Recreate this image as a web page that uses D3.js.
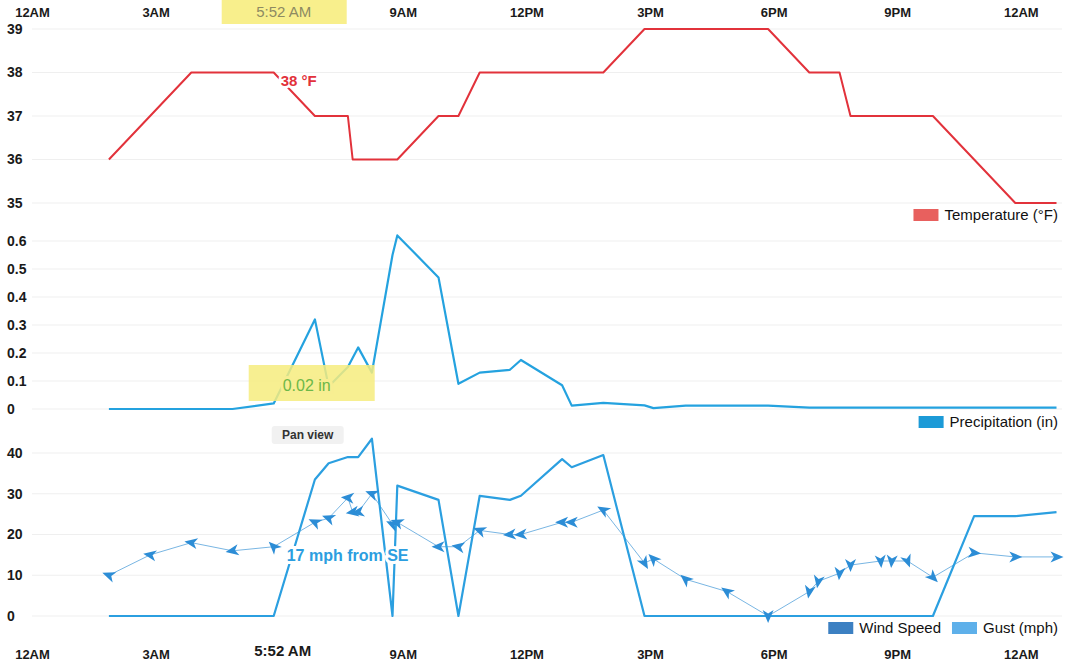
<!DOCTYPE html>
<html><head><meta charset="utf-8">
<script src="https://cdn.jsdelivr.net/npm/d3@7/dist/d3.min.js"></script>
<style>
body{margin:0;background:#fff;}
svg text{font-family:"Liberation Sans",Arial,Helvetica,sans-serif;}
</style></head><body>
<svg id="chart" width="1066" height="670"></svg>
<script>
// ---------- data ----------
const axisHours  = [0, 3, 9, 12, 15, 18, 21, 24];
const axisLabels = ["12AM", "3AM", "9AM", "12PM", "3PM", "6PM", "9PM", "12AM"];
const cursorTime  = "05:52";
const cursorLabel = "5:52 AM";

const tempTicks = [35, 36, 37, 38, 39];
const precipTicks = [0, 0.1, 0.2, 0.3, 0.4, 0.5, 0.6];
const windTicks = [0, 10, 20, 30, 40];

const tempTimes  = ["01:52","02:52","03:52","04:52","05:52","06:52","07:40","07:47","08:52","09:52","10:21","10:52","11:52","12:52","13:52","14:52","15:52","16:52","17:52","18:52","19:36","19:52","20:52","21:52","22:52","23:52","24:52"];
const tempValues = [36, 37, 38, 38, 38, 37, 37, 36, 36, 37, 37, 38, 38, 38, 38, 39, 39, 39, 39, 38, 38, 37, 37, 37, 36, 35, 35];

const precipTimes  = ["01:52","02:52","03:52","04:52","05:52","06:52","07:12","07:40","07:55","08:15","08:45","08:52","09:52","10:21","10:52","11:36","11:52","12:52","13:06","13:52","14:52","15:05","15:52","16:52","17:52","18:52","19:52","20:52","21:52","22:52","23:52","24:52"];
const precipValues = [0, 0, 0, 0, 0.02, 0.32, 0.08, 0.15, 0.22, 0.13, 0.55, 0.62, 0.47, 0.09, 0.13, 0.14, 0.175, 0.085, 0.012, 0.022, 0.013, 0.003, 0.012, 0.012, 0.012, 0.005, 0.005, 0.005, 0.005, 0.005, 0.005, 0.005];

const gustTimes  = ["01:52","05:52","06:52","07:12","07:40","07:55","08:15","08:45","08:52","09:52","10:21","10:52","11:36","11:52","12:52","13:06","13:52","14:52","21:52","22:52","23:52","24:52"];
const gustValues = [0, 0, 33.5, 37.5, 39, 39, 43.5, 0, 32, 28.5, 0, 29.5, 28.5, 29.5, 38.5, 36.5, 39.5, 0, 0, 24.5, 24.5, 25.5];

const windTimes  = ["01:52","02:52","03:52","04:52","05:52","06:52","07:12","07:40","07:47","07:55","08:15","08:45","08:52","09:52","10:21","10:52","11:36","11:52","12:52","13:06","13:52","14:52","15:05","15:52","16:52","17:52","18:52","19:05","19:36","19:52","20:36","20:52","21:15","21:52","22:52","23:52","24:52"];
const windValues = [10, 15, 18, 16, 17, 23, 24, 29, 25.5, 25.5, 30, 22.5, 23, 17, 17, 21, 20, 20, 23, 23, 26, 13, 14, 9, 6, 0, 6, 8.5, 10.5, 12.5, 13.5, 13.5, 13.5, 9.5, 15.5, 14.5, 14.5];
const windDirs   = [110, 100, 100, 80, 135, 115, 110, 95, 80, 80, 110, 115, 110, 90, 100, 110, 85, 85, 90, 90, 120, 330, 135, 130, 125, 0, 10, 10, 5, 0, 355, 5, 340, 315, 275, 270, 270];

const cursorTexts = { temp: "38 °F", precip: "0.02 in", wind: "17 mph from SE" };

// ---------- helpers ----------
const toHours = s => { const [h, m] = s.split(":").map(Number); return h + m / 60; };
const zip = (ts, vs) => ts.map((t, i) => ({ t: toHours(t), v: vs[i] }));

const svg = d3.select("#chart");
const x = d3.scaleLinear().domain([0, 25]).range([32, 1062]);
const yT = d3.scaleLinear().domain([35, 39]).range([203, 29]);
const yP = d3.scaleLinear().domain([0, 0.6]).range([409, 241]);
const yW = d3.scaleLinear().domain([0, 40]).range([616, 453]);

const cur = toHours(cursorTime);

// gridlines + y axes
function panelAxis(y, ticks, fmt) {
  const g = svg.append("g");
  g.selectAll("line").data(ticks).join("line")
    .attr("x1", x(0)).attr("x2", x(25))
    .attr("y1", d => y(d)).attr("y2", d => y(d))
    .attr("stroke", "#efefef").attr("stroke-width", 1);
  const ax = svg.append("g").attr("transform", "translate(7,0)")
    .call(d3.axisRight(y).tickValues(ticks).tickSize(0).tickPadding(0).tickFormat(fmt));
  ax.select(".domain").remove();
  ax.selectAll("text").attr("font-size", 14).attr("fill", "#1a1a1a").attr("font-weight", 600);
}
panelAxis(yT, tempTicks, d3.format("d"));
panelAxis(yP, precipTicks, d => d === 0 ? "0" : d3.format(".1f")(d));
panelAxis(yW, windTicks, d3.format("d"));

// top cursor highlight
svg.append("rect").attr("x", x(cur) - 52).attr("y", 0).attr("width", 125).attr("height", 24).attr("fill", "#f8ef8c");

// x axes
function timeAxis(gen, ty) {
  const ax = svg.append("g").attr("transform", `translate(0,${ty})`)
    .call(gen(x).tickValues(axisHours).tickSize(0).tickPadding(0).tickFormat((d, i) => axisLabels[i]));
  ax.select(".domain").remove();
  ax.selectAll("text").attr("font-size", 13).attr("fill", "#1a1a1a").attr("font-weight", 600);
}
timeAxis(d3.axisTop, 17);
timeAxis(d3.axisBottom, 650);

svg.append("text").attr("x", x(cur) + 10).attr("y", 17).attr("text-anchor", "middle")
  .attr("font-size", 15).attr("fill", "#8d8a62").text(cursorLabel);
svg.append("text").attr("x", x(cur) + 9).attr("y", 656).attr("text-anchor", "middle")
  .attr("font-size", 15).attr("fill", "#1a1a1a").attr("font-weight", 600).text(cursorLabel);

// ---------- temperature ----------
const tempData = zip(tempTimes, tempValues);
svg.append("path").datum(tempData)
  .attr("d", d3.line().x(d => x(d.t)).y(d => yT(d.v)))
  .attr("fill", "none").attr("stroke", "#e2323b").attr("stroke-width", 2).attr("stroke-linejoin", "round");
svg.append("text").attr("x", x(cur) + 7).attr("y", 86).attr("font-size", 15).attr("font-weight", 700)
  .attr("fill", "#e2323b").attr("stroke", "#fff").attr("stroke-width", 5).attr("paint-order", "stroke")
  .text(cursorTexts.temp);

// ---------- precipitation ----------
const precipData = zip(precipTimes, precipValues);
svg.append("path").datum(precipData)
  .attr("d", d3.line().x(d => x(d.t)).y(d => yP(d.v)))
  .attr("fill", "none").attr("stroke", "#24a2df").attr("stroke-width", 2.2).attr("stroke-linejoin", "round");
svg.append("rect").attr("x", x(cur) - 25).attr("y", 365).attr("width", 126).attr("height", 36)
  .attr("fill", "#f6ec7e").attr("opacity", 0.85);
svg.append("text").attr("x", x(cur) + 9).attr("y", 391).attr("font-size", 16)
  .attr("fill", "#6db848").attr("stroke", "#f7ee92").attr("stroke-width", 6).attr("paint-order", "stroke")
  .text(cursorTexts.precip);

// ---------- wind ----------
const gustData = zip(gustTimes, gustValues);
const windData = windTimes.map((t, i) => ({ t: toHours(t), v: windValues[i], dir: windDirs[i] }));

svg.append("path").datum(windData)
  .attr("d", d3.line().x(d => x(d.t)).y(d => yW(d.v)))
  .attr("fill", "none").attr("stroke", "#79b6e3").attr("stroke-width", 1);
svg.append("path").datum(gustData)
  .attr("d", d3.line().x(d => x(d.t)).y(d => yW(d.v)))
  .attr("fill", "none").attr("stroke", "#2b9fe0").attr("stroke-width", 2.2).attr("stroke-linejoin", "round");
svg.selectAll("path.arrow").data(windData).join("path").attr("class", "arrow")
  .attr("d", "M7,0 L-6,-5.5 L-2.5,0 L-6,5.5 Z")
  .attr("transform", d => `translate(${x(d.t)},${yW(d.v)}) rotate(${d.dir + 90})`)
  .attr("fill", "#2c8dd6");

svg.append("text").attr("x", x(cur) + 13).attr("y", 561).attr("font-size", 16).attr("font-weight", 700)
  .attr("fill", "#2c9ee0").attr("stroke", "#fff").attr("stroke-width", 6).attr("paint-order", "stroke")
  .text(cursorTexts.wind);

// pan view badge
svg.append("rect").attr("x", x(cur) - 2).attr("y", 426).attr("width", 72).attr("height", 18).attr("rx", 3).attr("fill", "#f1f1f1");
svg.append("text").attr("x", x(cur) + 34).attr("y", 439).attr("text-anchor", "middle").attr("font-size", 12)
  .attr("font-weight", 600).attr("fill", "#333").text("Pan view");

// ---------- legends ----------
function legend(items, yPos) {
  let xr = 1058;
  for (let i = items.length - 1; i >= 0; i--) {
    const it = items[i];
    const t = svg.append("text").attr("x", xr).attr("y", yPos + 5).attr("text-anchor", "end")
      .attr("font-size", 15).attr("fill", "#111").text(it.label);
    const w = t.node().getComputedTextLength();
    svg.append("rect").attr("x", xr - w - 31).attr("y", yPos - 6).attr("width", 25).attr("height", 12).attr("fill", it.color);
    xr = xr - w - 42;
  }
}
legend([{ label: "Temperature (°F)", color: "#e8605e" }], 215);
legend([{ label: "Precipitation (in)", color: "#1c9ad7" }], 422);
legend([{ label: "Wind Speed", color: "#3c80c2" }, { label: "Gust (mph)", color: "#5eb0ea" }], 628);
</script>
</body></html>
